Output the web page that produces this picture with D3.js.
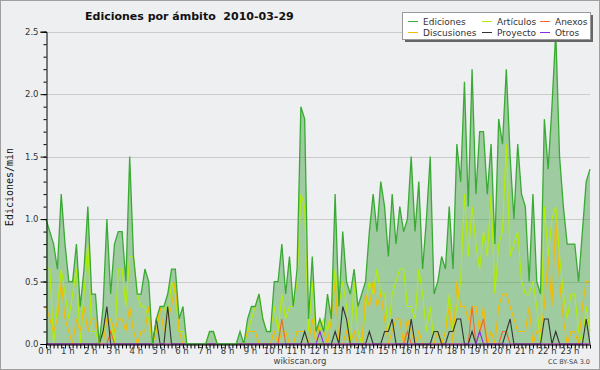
<!DOCTYPE html>
<html>
<head>
<meta charset="utf-8">
<script src="https://cdn.jsdelivr.net/npm/d3@7"></script>
<style>
body { margin: 0; background: #fff; }
svg { display: block; font-family: "DejaVu Sans", sans-serif; }
</style>
</head>
<body>
<svg id="chart" width="600" height="370"></svg>
<script>
// one value every 10 minutes, 144 per day
const horas = ["0 h","1 h","2 h","3 h","4 h","5 h","6 h","7 h","8 h","9 h","10 h","11 h",
    "12 h","13 h","14 h","15 h","16 h","17 h","18 h","19 h","20 h","21 h","22 h","23 h"];
const yTicks = [0, 0.5, 1.0, 1.5, 2.0, 2.5];

const ediciones = [
    1.0,0.9,0.8,0.6,1.2,0.8, 0.5,0.5,0.8,0.3,0.6,1.1,
    0.4,0.4,0.0,0.3,1.0,0.4, 0.8,0.9,0.9,0.5,1.5,0.7,
    0.4,0.4,0.6,0.5,0.0,0.2, 0.3,0.3,0.4,0.6,0.6,0.2,
    0.3,0.0,0.0,0.0,0.0,0.0, 0.0,0.1,0.1,0.0,0.0,0.0,
    0.0,0.0,0.0,0.1,0.0,0.2, 0.3,0.3,0.4,0.2,0.1,0.1,
    0.5,0.5,0.8,0.4,0.7,0.3, 0.6,1.9,1.8,0.2,0.7,0.1,
    0.2,0.1,0.4,0.2,1.2,0.3, 0.9,0.5,0.4,0.6,0.3,0.4,
    0.5,0.9,1.2,0.9,1.3,1.1, 0.7,1.2,0.8,1.1,0.9,1.0,
    1.5,0.9,1.3,0.6,1.0,1.5, 0.4,0.5,0.7,0.6,1.1,0.6,
    1.6,1.3,2.1,1.1,2.2,1.2, 1.7,1.7,1.2,1.6,0.8,1.8,
    1.6,2.2,1.5,1.0,1.6,1.2, 1.1,0.5,1.2,0.5,0.4,1.8,
    1.4,1.9,2.5,1.5,1.1,0.8, 0.8,0.8,0.5,0.9,1.3,1.4
];
const articulos = [
    0.6,0.6,0.0,0.3,0.6,0.4, 0.2,0.4,0.6,0.0,0.4,0.8,
    0.1,0.1,0.0,0.1,0.2,0.2, 0.0,0.6,0.6,0.3,0.7,0.7,
    0.4,0.3,0.3,0.2,0.0,0.1, 0.3,0.3,0.2,0.5,0.4,0.1,
    0.1,0.0,0.0,0.0,0.0,0.0, 0.0,0.1,0.1,0.0,0.0,0.0,
    0.0,0.0,0.0,0.0,0.0,0.1, 0.2,0.3,0.4,0.2,0.1,0.1,
    0.3,0.1,0.4,0.2,0.3,0.3, 0.5,1.2,1.1,0.1,0.5,0.0,
    0.1,0.2,0.1,0.3,0.6,0.3, 0.5,0.3,0.0,0.5,0.1,0.0,
    0.3,0.5,0.4,0.6,0.4,0.4, 0.1,0.4,0.5,0.6,0.6,0.3,
    0.3,0.2,0.6,0.4,0.1,0.3, 0.0,0.0,0.0,0.1,0.4,0.1,
    0.3,0.5,1.2,0.7,1.1,0.8, 0.6,0.9,0.7,1.2,0.4,0.8,
    0.9,1.6,0.7,0.8,0.9,0.5, 0.4,0.4,0.5,0.3,0.0,1.1,
    0.7,1.0,1.1,0.7,0.4,0.2, 0.4,0.4,0.1,0.0,0.3,0.1
];
const discusiones = [
    0.3,0.2,0.1,0.2,0.5,0.2, 0.1,0.0,0.2,0.1,0.3,0.1,
    0.2,0.2,0.0,0.0,0.2,0.2, 0.1,0.2,0.2,0.1,0.3,0.1,
    0.0,0.1,0.1,0.3,0.0,0.1, 0.3,0.1,0.2,0.3,0.5,0.1,
    0.0,0.0,0.0,0.0,0.0,0.0, 0.0,0.0,0.0,0.0,0.0,0.0,
    0.0,0.0,0.0,0.0,0.0,0.1, 0.1,0.1,0.0,0.0,0.0,0.0,
    0.1,0.0,0.1,0.1,0.0,0.0, 0.1,0.1,0.1,0.0,0.2,0.0,
    0.2,0.1,0.0,0.2,0.5,0.0, 0.0,0.1,0.0,0.1,0.0,0.0,
    0.4,0.3,0.5,0.3,0.4,0.2, 0.0,0.1,0.2,0.2,0.0,0.2,
    0.1,0.0,0.1,0.0,0.0,0.0, 0.0,0.1,0.0,0.1,0.3,0.0,
    0.5,0.3,0.3,0.2,0.3,0.3, 0.1,0.3,0.0,0.1,0.0,0.3,
    0.4,0.4,0.3,0.2,0.1,0.1, 0.1,0.3,0.0,0.1,0.1,0.3,
    0.7,0.3,1.0,0.5,0.2,0.0, 0.1,0.1,0.0,0.3,0.5,0.5
];
const anexos = [
    0,0,0,0,0,0, 0,0,0,0,0,0,
    0,0,0,0,0,0.1, 0,0,0,0,0,0,
    0,0,0,0,0,0, 0,0,0,0,0,0,
    0,0,0,0,0,0, 0,0,0,0,0,0,
    0,0,0,0,0,0, 0,0,0,0,0,0,
    0,0,0.2,0,0,0, 0,0,0,0,0,0,
    0,0,0,0,0,0, 0,0,0,0,0,0,
    0,0,0,0,0,0, 0,0,0,0,0,0.1,
    0,0,0,0,0,0, 0,0,0,0,0,0,
    0,0,0,0,0.3,0, 0.1,0.2,0,0,0,0,
    0.1,0.1,0,0,0,0, 0,0,0,0,0,0,
    0,0,0,0,0,0, 0,0,0,0,0,0
];
const proyecto = [
    0,0,0,0,0,0, 0,0,0,0,0,0,
    0,0,0,0.1,0.3,0, 0,0,0,0,0,0,
    0,0,0,0,0,0.2, 0,0,0.3,0,0,0,
    0,0,0,0,0,0, 0,0,0,0,0,0,
    0,0,0,0,0,0, 0,0,0,0,0,0,
    0,0,0,0,0,0, 0,0,0.1,0,0,0,
    0,0,0,0,0.1,0, 0.3,0.2,0,0,0,0,
    0,0.1,0,0,0,0.1, 0.1,0.2,0,0,0,0,
    0.2,0,0,0,0,0, 0.1,0.1,0,0,0.1,0.1,
    0.2,0.2,0,0,0.1,0, 0,0,0,0,0,0,
    0,0.1,0.2,0,0,0, 0,0,0,0,0,0.2,
    0.2,0,0.1,0,0,0, 0,0,0,0,0.2,0
];
const otros = [
    0,0,0,0,0,0, 0,0,0,0,0,0,
    0,0,0,0,0,0, 0,0,0,0,0,0,
    0,0,0,0,0,0, 0,0,0,0,0,0,
    0,0,0,0,0,0, 0,0,0,0,0,0,
    0,0,0,0,0,0, 0,0,0,0,0,0,
    0,0,0,0,0,0, 0,0,0,0,0,0,
    0.1,0,0,0,0,0, 0,0,0,0,0,0,
    0,0,0,0,0,0, 0,0,0,0,0,0,
    0,0,0,0,0,0, 0,0,0,0,0,0,
    0,0,0,0,0,0, 0.1,0,0,0,0,0,
    0,0,0,0,0,0, 0,0,0,0,0,0,
    0,0,0,0,0,0, 0,0,0,0,0,0
];

const series = [
    { name: "Ediciones", values: ediciones, color: "#3aaa35" },
    { name: "Artículos", values: articulos, color: "#b4ee00" },
    { name: "Anexos", values: anexos, color: "#f4662a" },
    { name: "Discusiones", values: discusiones, color: "#f5bb00" },
    { name: "Proyecto", values: proyecto, color: "#333333" },
    { name: "Otros", values: otros, color: "#8a2be2" }
];

const svg = d3.select("#chart");
const W = 600, H = 370;

svg.append("rect")
    .attr("x", 0.5).attr("y", 0.5)
    .attr("width", W - 1).attr("height", H - 1)
    .attr("fill", "#eeeff1")
    .attr("stroke", "#a0a0a0");

const x = d3.scaleLinear().domain([0, ediciones.length - 1]).range([46, 590]);
const y = d3.scaleLinear().domain([0, 2.5]).range([344, 31.7]);

// grid
svg.append("g")
    .selectAll("line")
    .data(yTicks.slice(1))
    .enter()
    .append("line")
    .attr("x1", x.range()[0]).attr("x2", x.range()[1])
    .attr("y1", d => Math.round(y(d)) + 0.5).attr("y2", d => Math.round(y(d)) + 0.5)
    .attr("stroke", "#cbcbcb");

// total edits as filled area
const area = d3.area()
    .x((d, i) => x(i))
    .y0(y(0))
    .y1(d => y(d));
const line = d3.line()
    .x((d, i) => x(i))
    .y(d => y(d));

svg.append("path")
    .attr("d", area(ediciones))
    .attr("fill", "#3ca03c")
    .attr("fill-opacity", 0.45);

// draw thin series first, total on top of them
[1, 3, 2, 4, 5].forEach(k => {
    svg.append("path")
        .attr("d", line(series[k].values))
        .attr("fill", "none")
        .attr("stroke", series[k].color)
        .attr("stroke-width", 1.1);
});
svg.append("path")
    .attr("d", line(ediciones))
    .attr("fill", "none")
    .attr("stroke", series[0].color)
    .attr("stroke-width", 1.3);

// y axis
const yAxis = svg.append("g")
    .attr("transform", "translate(46.5,0)")
    .call(d3.axisLeft(y).tickValues(yTicks).tickSize(6).tickPadding(2).tickFormat(d3.format(".1f")));
svg.append("g")
    .attr("transform", "translate(46.5,0)")
    .call(d3.axisLeft(y).tickValues(d3.range(0, 26).map(v => v / 10)).tickSize(3).tickFormat(""))
    .select(".domain").remove();
yAxis.selectAll("text").attr("font-size", 8.5).attr("fill", "#333").attr("font-family", "DejaVu Sans");

// x axis
const xAxis = svg.append("g")
    .attr("transform", "translate(0,344.5)")
    .call(d3.axisBottom(x).tickValues(d3.range(0, 144)).tickSize(4).tickFormat(""));
xAxis.select(".domain").attr("d", `M46,0.5H590`);
svg.append("g")
    .selectAll("text")
    .data(horas)
    .enter()
    .append("text")
    .attr("x", (d, i) => x(i * 6) - 1)
    .attr("y", 354)
    .attr("text-anchor", "middle")
    .attr("font-size", 8.5)
    .attr("fill", "#333")
    .text(d => d);

svg.selectAll(".tick line").attr("stroke", "#000");
svg.selectAll(".domain").attr("stroke", "#000");

// titles
svg.append("text")
    .attr("x", 85).attr("y", 20)
    .attr("font-size", 11).attr("font-weight", "bold")
    .attr("fill", "#111")
    .style("white-space", "pre")
    .text("Ediciones por ámbito  2010-03-29");

svg.append("text")
    .attr("transform", "translate(13,187) rotate(-90)")
    .attr("text-anchor", "middle")
    .attr("font-family", "DejaVu Sans Mono")
    .attr("font-size", 10)
    .attr("fill", "#111")
    .text("Ediciones/min");

svg.append("text")
    .attr("x", 300).attr("y", 364)
    .attr("text-anchor", "middle")
    .attr("font-size", 8.5).attr("fill", "#444")
    .text("wikiscan.org");
svg.append("text")
    .attr("x", 590).attr("y", 364)
    .attr("text-anchor", "end")
    .attr("font-size", 6.5).attr("fill", "#444")
    .text("CC BY-SA 3.0");

// legend
const lg = svg.append("g").attr("transform", "translate(402,12)");
lg.append("rect").attr("x", 3).attr("y", 3).attr("width", 188).attr("height", 27).attr("fill", "#666");
lg.append("rect").attr("x", 0.5).attr("y", 0.5).attr("width", 188).attr("height", 27)
    .attr("fill", "#fff").attr("stroke", "#999");
const legendPos = [[6, 10], [80, 10], [138, 10], [6, 21], [80, 21], [138, 21]];
const legendOrder = [0, 1, 2, 3, 4, 5];
legendOrder.forEach((k, j) => {
    const [lx, ly] = legendPos[j];
    lg.append("line")
        .attr("x1", lx).attr("x2", lx + 10)
        .attr("y1", ly - 0.5).attr("y2", ly - 0.5)
        .attr("stroke", series[k].color);
    lg.append("text")
        .attr("x", lx + 15).attr("y", ly + 3)
        .attr("font-size", 9).attr("fill", "#333")
        .text(series[k].name);
});
</script>
</body>
</html>
